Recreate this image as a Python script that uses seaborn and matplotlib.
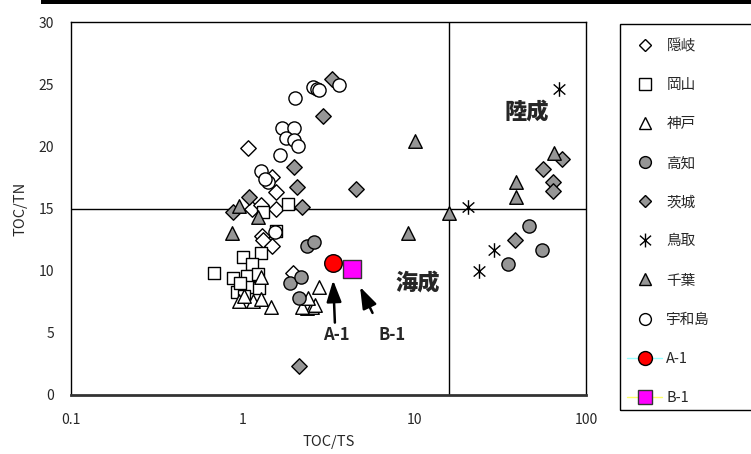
import matplotlib
matplotlib.use("Agg")
import matplotlib.pyplot as plt
import seaborn as sns
from matplotlib.lines import Line2D
from matplotlib.path import Path
from matplotlib.patches import Rectangle

# ==========================================
# DATA  (TOC/TS , TOC/TN)
# ==========================================

oki_x = [1.07, 1.48, 1.56, 1.56, 1.13, 1.28, 1.30, 1.31, 1.48, 1.96]
oki_y = [19.9, 17.5, 16.3, 15.0, 15.0, 15.3, 12.8, 12.5, 12.0, 9.8]

okayama_x = [1.84, 1.31, 1.56, 1.28, 1.00, 0.68, 1.13, 0.88, 1.06, 1.23, 0.93, 1.12, 1.24, 0.97, 1.02]
okayama_y = [15.4, 14.7, 13.2, 11.4, 11.1, 9.8, 10.5, 9.4, 9.6, 9.7, 8.3, 8.7, 8.6, 9.0, 8.0]

kobe_x = [1.28, 0.95, 1.15, 1.28, 1.46, 2.78, 2.37, 2.53, 2.21, 2.64, 2.40, 1.02]
kobe_y = [9.5, 7.6, 7.6, 7.7, 7.1, 8.7, 7.0, 7.1, 7.1, 7.2, 7.8, 8.0]

kochi_x = [2.37, 2.60, 1.88, 2.19, 2.13, 46.5, 55.3, 35.1]
kochi_y = [12.0, 12.3, 9.0, 9.5, 7.8, 13.6, 11.7, 10.5]

ibaraki_x = [3.31, 2.94, 1.99, 2.07, 4.57, 1.09, 2.21, 0.88, 2.13, 72.4, 56.1, 64.1, 64.1, 38.5]
ibaraki_y = [25.4, 22.4, 18.3, 16.7, 16.6, 15.9, 15.1, 14.7, 2.3, 19.0, 18.2, 17.1, 16.4, 12.5]

tottori_x = [69.5, 20.5, 29.1, 23.8]
tottori_y = [24.6, 15.1, 11.7, 10.0]

chiba_x = [0.95, 1.23, 0.87, 10.1, 15.9, 9.18, 39.1, 39.1, 65.0]
chiba_y = [15.2, 14.3, 13.0, 20.4, 14.6, 13.0, 17.1, 15.9, 19.5]

uwajima_x = [2.02, 2.57, 2.71, 2.78, 3.64, 1.69, 1.99, 1.79, 1.99, 2.10, 1.65, 1.28, 1.40, 1.35, 1.54]
uwajima_y = [23.9, 24.8, 24.6, 24.5, 24.9, 21.5, 21.5, 20.7, 20.5, 20.0, 19.3, 18.0, 17.1, 17.4, 13.1]

a1_x = [3.36]
a1_y = [10.6]

b1_x = [4.33]
b1_y = [10.1]

# boundary lines
ts_limit = 16
tn_limit = 15

# ==========================================
# STYLE
# ==========================================

sns.set_style("white")
plt.rcParams['font.family'] = ['Noto Sans CJK JP', 'DejaVu Sans']

GRAY = "#969696"

# excel style asterisk: X plus vertical bar
star = Path(
    [(0, -1), (0, 1), (-0.8, -0.7), (0.8, 0.7), (-0.8, 0.7), (0.8, -0.7)],
    [Path.MOVETO, Path.LINETO, Path.MOVETO, Path.LINETO, Path.MOVETO, Path.LINETO]
)

series = [
    ("隠岐", oki_x, oki_y, "D", "white", 62, 6.5),
    ("岡山", okayama_x, okayama_y, "s", "white", 85, 8),
    ("神戸", kobe_x, kobe_y, "^", "white", 95, 8.5),
    ("高知", kochi_x, kochi_y, "o", GRAY, 90, 8.5),
    ("茨城", ibaraki_x, ibaraki_y, "D", GRAY, 62, 6.5),
    ("鳥取", tottori_x, tottori_y, star, "black", 110, 10),
    ("千葉", chiba_x, chiba_y, "^", GRAY, 95, 8.5),
    ("宇和島", uwajima_x, uwajima_y, "o", "white", 90, 8.5),
]

# ==========================================
# FIGURE
# ==========================================

fig = plt.figure(figsize=(7.51, 4.54), dpi=100)
ax = fig.add_axes([71/751, 1 - 395/454, 515/751, 373/454])

for name, xs, ys, mk, face, size, _ in series:
    sns.scatterplot(x=xs, y=ys, marker=mk, s=size, color=face,
                    edgecolor="black", linewidth=1, ax=ax, legend=False, zorder=3)

sns.scatterplot(x=a1_x, y=a1_y, marker="o", s=160, color="#ff0000",
                edgecolor="black", linewidth=1, ax=ax, legend=False, zorder=4)
sns.scatterplot(x=b1_x, y=b1_y, marker="s", s=165, color="#ff00ff",
                edgecolor="#333333", linewidth=1, ax=ax, legend=False, zorder=4)

ax.axvline(ts_limit, color="black", lw=1, zorder=2)
ax.axhline(tn_limit, color="black", lw=1, zorder=2)

ax.set_xscale("log")
ax.set_xlim(0.1, 100)
ax.set_ylim(0, 30)
ax.set_yticks(range(0, 31, 5))
ax.set_xticks([0.1, 1, 10, 100])
ax.set_xticklabels(["0.1", "1", "10", "100"])
ax.minorticks_off()

ax.tick_params(axis="x", direction="in", length=4, width=1, pad=13, labelsize=10)
ax.tick_params(axis="y", length=0, pad=12, labelsize=10)

for side in ["top", "left", "right"]:
    ax.spines[side].set_color("black")
    ax.spines[side].set_linewidth(1)
ax.spines["bottom"].set_color("#333333")
ax.spines["bottom"].set_linewidth(2)

ax.set_xlabel("TOC/TS", fontsize=10.5, labelpad=6)
ax.set_ylabel("TOC/TN", fontsize=10.5, labelpad=8)

# region labels
ax.text(45, 22.8, "陸成", fontsize=16, fontweight="heavy", ha="center", va="center")
ax.text(10.5, 9.0, "海成", fontsize=16, fontweight="heavy", ha="center", va="center")

# arrows to samples
arrow_style = dict(arrowstyle="-|>,head_width=0.45,head_length=1.3", color="black", lw=1.8)
ax.annotate("", xy=(3.36, 9.45), xytext=(3.45, 5.6), arrowprops=arrow_style)
ax.annotate("", xy=(4.75, 8.9), xytext=(5.8, 6.4), arrowprops=arrow_style)
ax.text(3.49, 4.8, "A-1", fontsize=12, fontweight="bold", ha="center", va="center")
ax.text(7.41, 4.8, "B-1", fontsize=12, fontweight="bold", ha="center", va="center")

# ==========================================
# LEGEND
# ==========================================

handles = []
for name, xs, ys, mk, face, size, ms in series:
    handles.append(Line2D([], [], marker=mk, ls="none", markerfacecolor=face,
                          markeredgecolor="black", markeredgewidth=1, markersize=ms,
                          label=name))
handles.append(Line2D([], [], marker="o", color="#99ffff", lw=1, markerfacecolor="#ff0000",
                      markeredgecolor="black", markersize=10, label="A-1"))
handles.append(Line2D([], [], marker="s", color="#ffff66", lw=1, markerfacecolor="#ff00ff",
                      markeredgecolor="#333333", markersize=9.5, label="B-1"))

fig.legend(handles=handles, loc="upper left", bbox_to_anchor=(627/751, 1 - 39/454),
           frameon=False, fontsize=10.5, labelspacing=1.72, handlelength=2.4,
           handletextpad=0.3, borderpad=0, borderaxespad=0)

fig.add_artist(Rectangle((620/751, 1 - 410/454), 0.3, 386/454, transform=fig.transFigure,
                         fill=False, edgecolor="black", lw=1))
fig.add_artist(Rectangle((41/751, 1 - 4/454), 1, 4/454, transform=fig.transFigure,
                         color="black", lw=0))

fig.savefig("out.png", dpi=100)
plt.close()
